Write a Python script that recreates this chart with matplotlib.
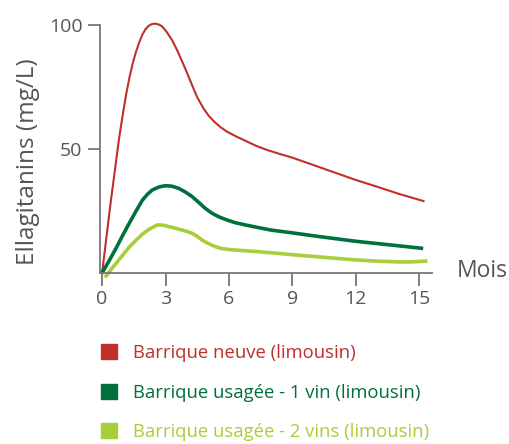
import matplotlib.pyplot as plt
from matplotlib.patches import Patch

# Mois et teneurs
mois_neuve = [0, 0.2, 0.4, 0.6, 0.8, 1.0, 1.15, 1.3, 1.45, 1.6, 1.75, 1.9, 2.05, 2.2,
              2.35, 2.5, 2.7, 2.85, 3.05, 3.3, 3.55, 3.8, 4.05, 4.3, 4.5, 4.8, 5.05,
              5.3, 5.6, 5.9, 6.35, 6.85, 7.3, 7.8, 8.4, 9, 10, 11, 12, 13, 14, 15.2]
neuve = [0, 14, 28, 41, 54, 65, 72.5, 79, 84.5, 89, 92.8, 96, 98.2, 99.6,
         100.3, 100.5, 100.1, 99.3, 97.2, 94, 89.8, 85, 80, 74.8, 70.8, 66.3, 63.3,
         61, 58.8, 57, 55, 53, 51.2, 49.6, 48, 46.5, 43.5, 40.5, 37.5, 34.8, 32, 29]

mois_1vin = [0.03, 0.35, 0.66, 0.97, 1.28, 1.6, 1.91, 2.15, 2.38, 2.7, 3.0, 3.3,
             3.63, 3.95, 4.26, 4.58, 4.89, 5.2, 5.51, 5.9, 6.3, 6.77, 7.4,
             8, 9, 10, 11, 12, 13, 14, 15.1]
vin1 = [0.5, 5.2, 10, 15.1, 20, 24.9, 29.4, 31.8, 33.5, 34.7, 35.2, 35.0,
        34.1, 32.6, 30.8, 28.4, 26, 24.1, 22.7, 21.4, 20.3, 19.4, 18.3,
        17.3, 16.2, 15, 13.9, 12.8, 11.9, 11, 10]

mois_2vins = [0.19, 0.42, 0.66, 0.97, 1.28, 1.6, 1.91, 2.25, 2.62, 2.9, 3.16, 3.5,
              3.79, 4.05, 4.26, 4.5, 4.73, 5.05, 5.36, 5.65, 5.98, 6.4, 6.77, 7.4,
              8, 9, 10, 11, 12, 13, 14, 14.6, 15.3]
vins2 = [-1.2, 1.4, 3.9, 7.2, 10.4, 13.2, 15.7, 17.8, 19.4, 19.3, 18.7, 18,
         17.3, 16.7, 16, 14.8, 13.3, 11.8, 10.6, 9.9, 9.5, 9.2, 9, 8.6,
         8.2, 7.4, 6.7, 6, 5.3, 4.8, 4.5, 4.5, 4.8]

labels = ["Barrique neuve (limousin)",
          "Barrique usagée - 1 vin (limousin)",
          "Barrique usagée - 2 vins (limousin)"]
colors = ["#bf2f2c", "#00703c", "#a8cf3a"]

plt.rcParams['font.family'] = ['Open Sans', 'DejaVu Sans']
grey = "#555555"

fig = plt.figure(figsize=(5.1, 4.44), dpi=100)
ax = fig.add_axes([0.196, 0.385, 0.651, 0.559])

ax.plot(mois_neuve, neuve, color=colors[0], lw=1.5, clip_on=False)
ax.plot(mois_1vin, vin1, color=colors[1], lw=2.6, clip_on=False)
ax.plot(mois_2vins, vins2, color=colors[2], lw=2.6, clip_on=False)

ax.set_xlim(-0.1, 15.6)
ax.set_ylim(0, 100)
ax.set_xticks([0, 3, 6, 9, 12, 15])
ax.set_yticks([50, 100])

for s in ['top', 'right']:
    ax.spines[s].set_visible(False)
for s in ['left', 'bottom']:
    ax.spines[s].set_color("#777777")
    ax.spines[s].set_linewidth(1.3)
ax.tick_params(colors="#777777", length=9, width=1.3, labelsize=14, labelcolor=grey)

ax.set_ylabel("Ellagitanins (mg/L)", fontsize=17.5, color=grey)
ax.yaxis.set_label_coords(-0.18, 0.45)
fig.text(0.995, 0.39, "Mois", fontsize=16.5, color=grey, ha='right', va='center')

handles = [Patch(color=c) for c in colors]
fig.legend(handles, labels, loc='upper left', bbox_to_anchor=(0.198, 0.2252),
           frameon=False, fontsize=13.3, labelcolor=colors,
           borderpad=0, borderaxespad=0,
           handlelength=0.87, handleheight=0.87, handletextpad=0.85,
           labelspacing=1.17)

fig.savefig("out.png", dpi=100)
